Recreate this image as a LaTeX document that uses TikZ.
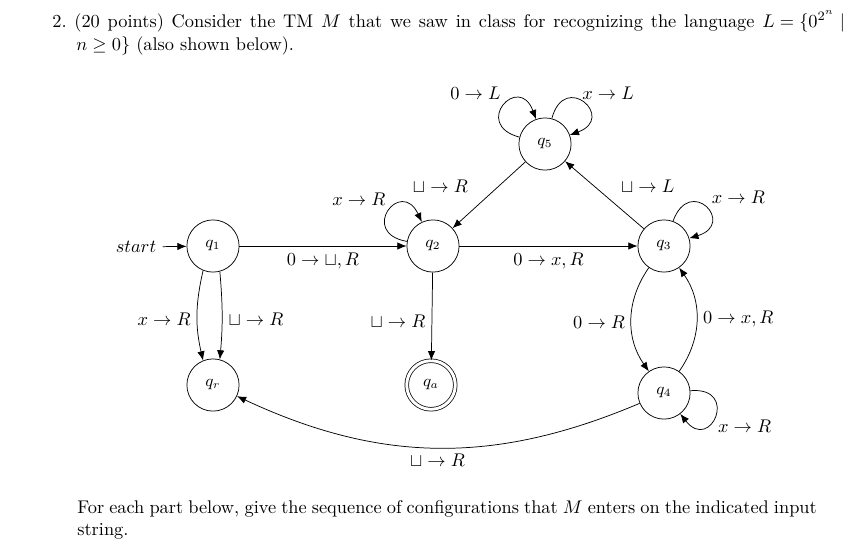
\documentclass[tikz,border=0pt]{standalone}
\usepackage{amsmath, amssymb}
\usetikzlibrary{arrows.meta,positioning}

\tikzset{
  state/.style={circle, draw, minimum size=1cm, inner sep=0pt, font=\small},
  accstate/.style={state, double, double distance=1.6pt, minimum size=0.93cm},
  trans/.style={-{Latex[length=5pt,width=4pt]}},
  selfloop/.style={trans, min distance=27pt},
  para/.style={anchor=base west, inner sep=0pt},
}

\begin{document}
\begin{tikzpicture}[x=0.545pt, y=-0.545pt]
    \useasboundingbox (0,0) rectangle (861,543);
    % question text
    \node[para] (head1) at (52,27) {\makebox[432pt][s]{2.\ (20 points) Consider the TM $M$ that we saw in class for recognizing the language ${L = \{0^{2^n} \mid}$}};
    \node[para] (head2) at (76,50) {$n \geq 0\}$ (also shown below).};

    % states
    \node[state] (q1) at (213,246) {$q_1$};
    \node[state] (q2) at (433,246) {$q_2$};
    \node[state] (q3) at (664,246) {$q_3$};
    \node[state] (q5) at (545,144) {$q_5$};
    \node[state] (q4) at (664,393) {$q_4$};
    \node[state] (qr) at (213,385) {$q_r$};
    \node[accstate] (qa) at (431,385) {$q_a$};
    \node (start) at (136,247) {$start$};

    % transitions
    \draw[trans] (start) -- (q1);
    \draw[trans] (q1) -- node[below] {$0 \to \sqcup, R$} (q2);
    \draw[trans] (q2) -- node[below] {$0 \to x, R$} (q3);
    \draw[selfloop] (q2) to[out=170, in=115] node[above left=0pt and -2pt] {$x \to R$} (q2);
    \draw[trans] (q5) -- node[above left=-2.4pt and 8pt] {$\sqcup \to R$} (q2);
    \draw[trans] (q3) -- node[above right=-2.4pt and 5.5pt] {$\sqcup \to L$} (q5);
    \draw[selfloop] (q5) to[out=165, in=110] node[above left=0pt and -2pt] {$0 \to L$} (q5);
    \draw[selfloop] (q5) to[out=75, in=20] node[above right=-2pt and -4pt] {$x \to L$} (q5);
    \draw[selfloop] (q3) to[out=70, in=17] node[above right=-2pt and 0pt] {$x \to R$} (q3);
    \draw[trans] (q3) to[bend right=35] node[left, pos=0.53] {$0 \to R$} (q4);
    \draw[trans] (q4) to[bend right=35] node[right] {$0 \to x, R$} (q3);
    \draw[selfloop] (q4) to[out=5, in=-52] node[below right=-1pt and -2pt] {$x \to R$} (q4);
    \draw[trans] (q1.248) to[bend right=13] node[left, pos=0.55] {$x \to R$} (qr.112);
    \draw[trans] (q1.285) to[bend left=5] node[right, pos=0.55] {$\sqcup \to R$} (qr.75);
    \draw[trans] (q2) -- node[left, pos=0.55] {$\sqcup \to R$} (qa);
    \draw[trans] (q4) to[bend left=24] node[below] {$\sqcup \to R$} (qr);

    % closing text
    \node[para] (foot1) at (77,513) {\makebox[403pt][s]{For each part below, give the sequence of configurations that $M$ enters on the indicated input}};
    \node[para] (foot2) at (77,535) {string.};
\end{tikzpicture}
\end{document}
